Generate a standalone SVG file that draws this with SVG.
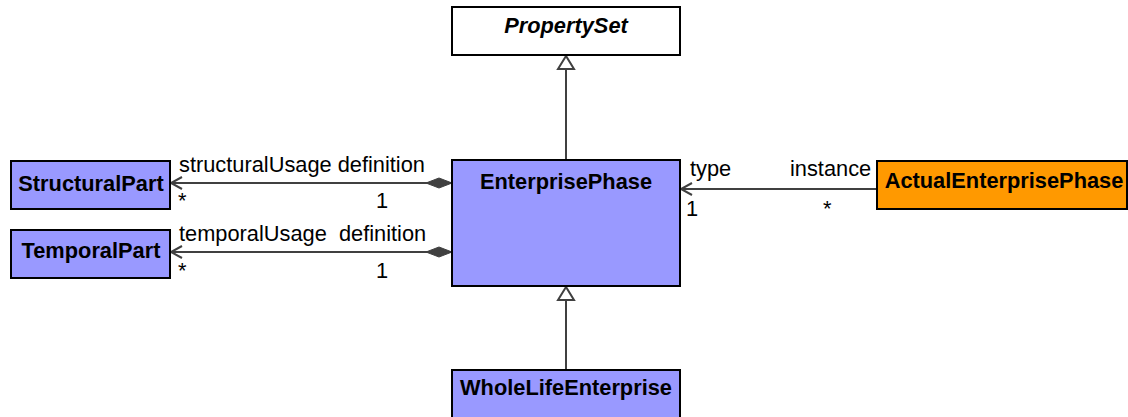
<svg xmlns="http://www.w3.org/2000/svg" width="1128" height="417" viewBox="0 0 1128 417">
<style>
.box{stroke:#000;stroke-width:2}
.blue{fill:#9999FF}
.orange{fill:#FF9900}
.white{fill:#FFFFFF}
.name{font-family:"Liberation Sans",Arial,sans-serif;font-weight:bold;font-size:21.8px;text-anchor:middle;fill:#000}
.lbl{font-family:"Liberation Sans",Arial,sans-serif;font-size:21.8px;fill:#000}
.ln{stroke:#404040;stroke-width:2;fill:none}
.open{stroke:#404040;stroke-width:2;fill:none}
.tri{stroke:#404040;stroke-width:2;fill:#fff}
.dia{fill:#404040;stroke:#404040;stroke-width:1}
</style>
<g id="connectors">
  <line class="ln" x1="566" y1="55" x2="566" y2="160"/>
  <polygon class="tri" points="566,56 558,69 574,69"/>
  <line class="ln" x1="566" y1="286" x2="566" y2="370"/>
  <polygon class="tri" points="566,287 558,300 574,300"/>
  <line class="ln" x1="452" y1="183" x2="170" y2="183"/>
  <polyline class="open" points="182,177 171,183 182,189"/>
  <polygon class="dia" points="452,183 439,178 426,183 439,188"/>
  <line class="ln" x1="452" y1="252" x2="170" y2="252"/>
  <polyline class="open" points="182,246 171,252 182,258"/>
  <polygon class="dia" points="452,252 439,247 426,252 439,257"/>
  <line class="ln" x1="877" y1="189" x2="680" y2="189"/>
  <polyline class="open" points="692,183 681,189 692,195"/>
  <text class="lbl" x="179" y="172">structuralUsage definition</text>
  <text class="lbl" x="178" y="208">*</text>
  <text class="lbl" x="376" y="208">1</text>
  <text class="lbl" x="179" y="241" xml:space="preserve">temporalUsage  definition</text>
  <text class="lbl" x="178" y="278">*</text>
  <text class="lbl" x="376" y="278">1</text>
  <text class="lbl" x="690" y="176">type</text>
  <text class="lbl" x="790" y="176">instance</text>
  <text class="lbl" x="686" y="216">1</text>
  <text class="lbl" x="823" y="216">*</text>
</g>
<g id="PropertySet">
  <rect class="box white" x="452" y="7" width="228" height="48"/>
  <text class="name" x="566" y="33" font-style="italic">PropertySet</text>
</g>
<g id="EnterprisePhase">
  <rect class="box blue" x="452" y="160" width="228" height="126"/>
  <text class="name" x="566" y="189">EnterprisePhase</text>
</g>
<g id="StructuralPart">
  <rect class="box blue" x="11" y="161" width="159" height="48"/>
  <text class="name" x="91" y="191">StructuralPart</text>
</g>
<g id="TemporalPart">
  <rect class="box blue" x="11" y="230" width="159" height="48"/>
  <text class="name" x="91" y="258">TemporalPart</text>
</g>
<g id="ActualEnterprisePhase">
  <rect class="box orange" x="877" y="161" width="250" height="48"/>
  <text class="name" x="1004" y="188">ActualEnterprisePhase</text>
</g>
<g id="WholeLifeEnterprise">
  <rect class="box blue" x="452" y="370" width="228" height="48"/>
  <text class="name" x="566" y="395">WholeLifeEnterprise</text>
</g>
</svg>
